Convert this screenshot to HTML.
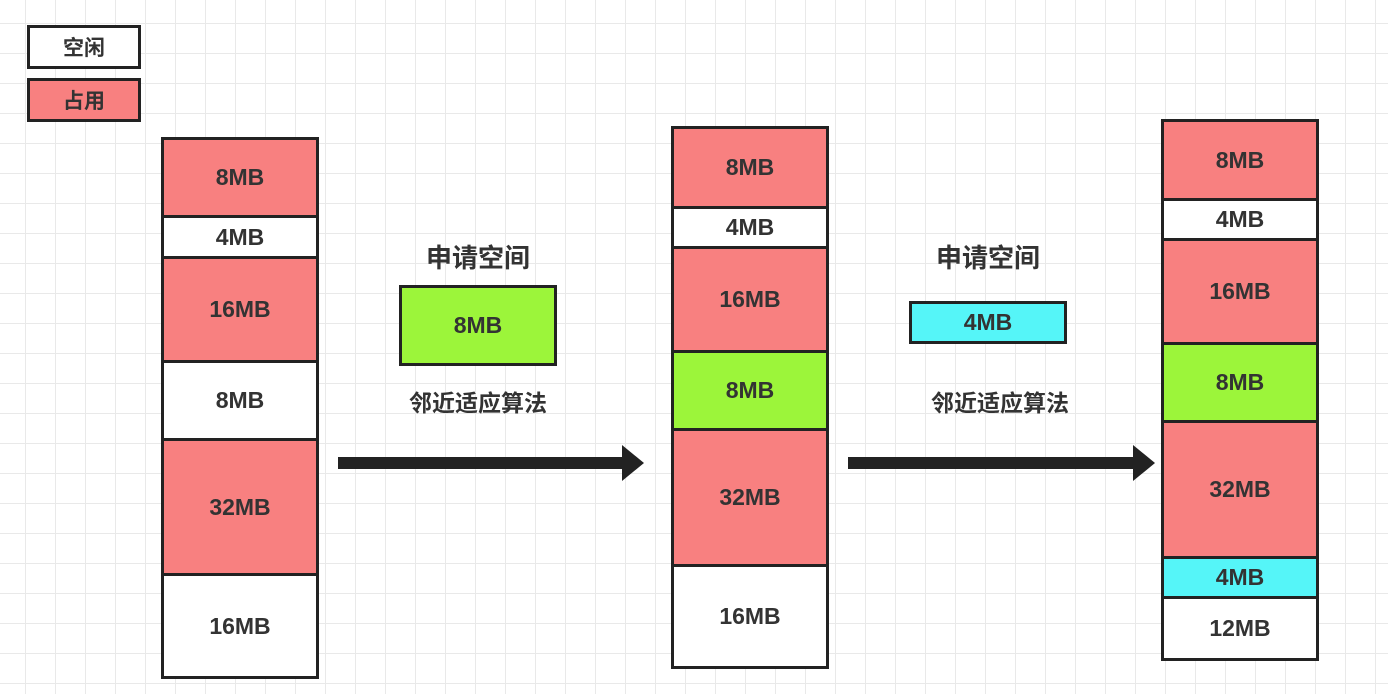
<!DOCTYPE html>
<html><head><meta charset="utf-8"><style>
body{margin:0;width:1388px;height:694px;overflow:hidden;position:relative;background:#fff;
background-image:linear-gradient(#e9e9e9 1px,transparent 1px),linear-gradient(90deg,#e9e9e9 1px,transparent 1px);
background-size:30px 30px;background-position:25px 23px;
font-family:"Liberation Sans","Noto Sans CJK SC",sans-serif;color:#333;}
.b{position:absolute;box-sizing:border-box;border:3px solid #222;display:flex;align-items:center;justify-content:center;font-weight:bold;font-size:23px;}
.r{background:#f88080}.w{background:#fff}.g{background:#9cf53a}.c{background:#55f5f8}
.t{position:absolute;font-weight:bold;transform:translateX(-50%);white-space:nowrap}
.sh{position:absolute;height:12px;background:#222}
.hd{position:absolute;width:0;height:0;border-top:18px solid transparent;border-bottom:18px solid transparent;border-left:22px solid #222}
</style></head><body>
<div class="b w" style="left:27px;top:25px;width:114px;height:44px;font-size:21px">空闲</div>
<div class="b r" style="left:27px;top:78px;width:114px;height:44px;font-size:21px">占用</div>

<div class="b r" style="left:161px;top:137px;width:158px;height:81px">8MB</div>
<div class="b w" style="left:161px;top:215px;width:158px;height:44px">4MB</div>
<div class="b r" style="left:161px;top:256px;width:158px;height:107px">16MB</div>
<div class="b w" style="left:161px;top:360px;width:158px;height:81px">8MB</div>
<div class="b r" style="left:161px;top:438px;width:158px;height:138px">32MB</div>
<div class="b w" style="left:161px;top:573px;width:158px;height:106px">16MB</div>

<div class="b r" style="left:671px;top:126px;width:158px;height:83px">8MB</div>
<div class="b w" style="left:671px;top:206px;width:158px;height:43px">4MB</div>
<div class="b r" style="left:671px;top:246px;width:158px;height:107px">16MB</div>
<div class="b g" style="left:671px;top:350px;width:158px;height:81px">8MB</div>
<div class="b r" style="left:671px;top:428px;width:158px;height:139px">32MB</div>
<div class="b w" style="left:671px;top:564px;width:158px;height:105px">16MB</div>

<div class="b r" style="left:1161px;top:119px;width:158px;height:82px">8MB</div>
<div class="b w" style="left:1161px;top:198px;width:158px;height:43px">4MB</div>
<div class="b r" style="left:1161px;top:238px;width:158px;height:107px">16MB</div>
<div class="b g" style="left:1161px;top:342px;width:158px;height:81px">8MB</div>
<div class="b r" style="left:1161px;top:420px;width:158px;height:139px">32MB</div>
<div class="b c" style="left:1161px;top:556px;width:158px;height:43px">4MB</div>
<div class="b w" style="left:1161px;top:596px;width:158px;height:65px">12MB</div>

<div class="t" style="left:478px;top:238px;font-size:26px">申请空间</div>
<div class="b g" style="left:399px;top:285px;width:158px;height:81px">8MB</div>
<div class="t" style="left:478px;top:384px;font-size:23px">邻近适应算法</div>
<div class="sh" style="left:338px;top:457px;width:290px"></div>
<div class="hd" style="left:622px;top:445px"></div>

<div class="t" style="left:988px;top:238px;font-size:26px">申请空间</div>
<div class="b c" style="left:909px;top:301px;width:158px;height:43px">4MB</div>
<div class="t" style="left:1000px;top:384px;font-size:23px">邻近适应算法</div>
<div class="sh" style="left:848px;top:457px;width:290px"></div>
<div class="hd" style="left:1133px;top:445px"></div>
</body></html>
